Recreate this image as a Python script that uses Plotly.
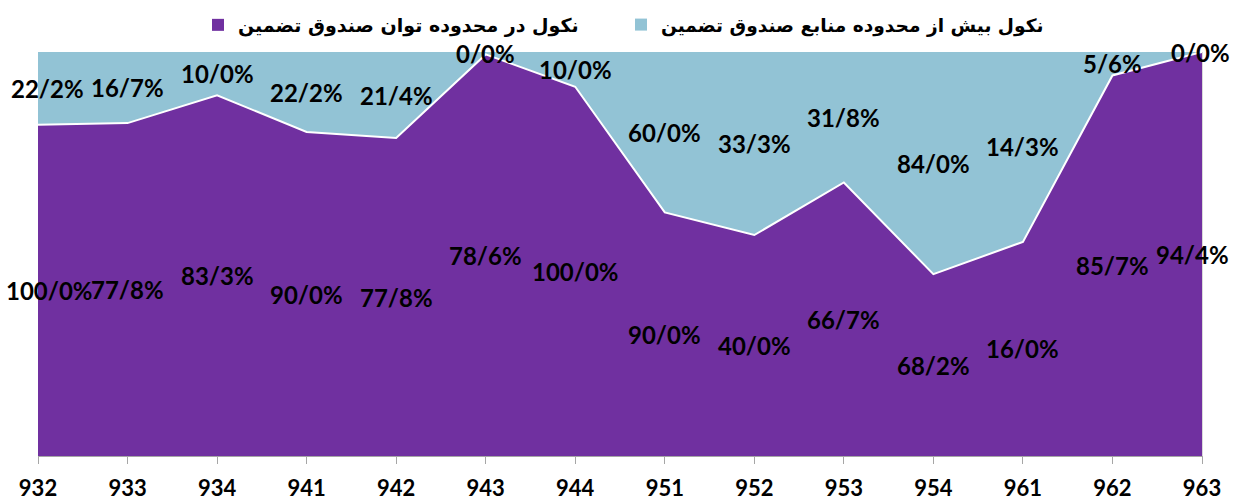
import plotly.graph_objects as go

# ---- data ----
categories = ['932', '933', '934', '941', '942', '943', '944',
              '951', '952', '953', '954', '961', '962', '963']
within_share = [82.0, 82.4, 89.3, 80.2, 78.7, 99.4, 91.4,
                60.3, 54.7, 67.7, 45.0, 53.0, 94.2, 100.0]
beyond_share = [18.0, 17.6, 10.7, 19.8, 21.3, 0.6, 8.6,
                39.7, 45.3, 32.3, 55.0, 47.0, 5.8, 0.0]
within_labels = ['100/0%', '77/8%', '83/3%', '90/0%', '77/8%', '78/6%', '100/0%',
                 '90/0%', '40/0%', '66/7%', '68/2%', '16/0%', '85/7%', '94/4%']
beyond_labels = ['22/2%', '16/7%', '10/0%', '22/2%', '21/4%', '0/0%', '10/0%',
                 '60/0%', '33/3%', '31/8%', '84/0%', '14/3%', '5/6%', '0/0%']
name_within = 'نکول در محدوده توان صندوق تضمین'
name_beyond = 'نکول بیش از محدوده منابع صندوق تضمین'

PURPLE = '#7030A0'
BLUE = '#92C3D5'
NUM_FONT = 'Lato'
AR_FONT = 'DejaVu Sans'

fig = go.Figure()
fig.add_trace(go.Scatter(
    x=categories, y=within_share, stackgroup='s', groupnorm='percent',
    mode='lines', line=dict(color='white', width=2), fillcolor=PURPLE,
    showlegend=False, hoverinfo='skip'))
fig.add_trace(go.Scatter(
    x=categories, y=beyond_share, stackgroup='s',
    mode='lines', line=dict(color=BLUE, width=0), fillcolor=BLUE,
    showlegend=False, hoverinfo='skip'))

# legend entries (square markers)
fig.add_trace(go.Scatter(x=[None], y=[None], mode='markers', name=name_within,
                         marker=dict(symbol='square', size=12, color=PURPLE),
                         legend='legend'))
fig.add_trace(go.Scatter(x=[None], y=[None], mode='markers', name=name_beyond,
                         marker=dict(symbol='square', size=12, color=BLUE),
                         legend='legend2'))

# data labels (x given as category index)
n = len(categories)
shift_within = {0: 11, n - 1: -10}
shift_beyond = {0: 9, n - 1: -2}
for i, c in enumerate(categories):
    tot = within_share[i] + beyond_share[i]
    p = within_share[i] / tot * 100
    fig.add_annotation(x=i, y=p / 2, xref='x', yref='y',
                       text='<b>%s</b>' % within_labels[i],
                       showarrow=False, xshift=shift_within.get(i, 0),
                       font=dict(family=NUM_FONT, size=24, color='black'))
    fig.add_annotation(x=i, y=(p + 100) / 2, xref='x', yref='y',
                       text='<b>%s</b>' % beyond_labels[i],
                       showarrow=False, xshift=shift_beyond.get(i, 0),
                       font=dict(family=NUM_FONT, size=24, color='black'))

leg_font = dict(family=AR_FONT, size=19, color='black', weight='bold')
fig.update_layout(
    width=1242, height=501, autosize=False,
    paper_bgcolor='white', plot_bgcolor='white',
    margin=dict(l=38, r=40, t=52, b=45, autoexpand=False),
    xaxis=dict(type='category', range=[0, n - 1], showgrid=False,
               showline=True, linecolor='#A6A6A6', linewidth=1,
               ticks='outside', ticklen=7, tickcolor='#A6A6A6', tickwidth=1,
               ticklabelstandoff=6,
               tickfont=dict(family=NUM_FONT, size=22, color='black'),
               tickprefix='<b>', ticksuffix='</b>', zeroline=False),
    yaxis=dict(range=[0, 100], showgrid=False, zeroline=False,
               showticklabels=False, side='right', showline=True,
               linecolor='#D9D9D9', linewidth=1, ticks=''),
    legend=dict(orientation='h', xref='container', yref='container',
                x=198 / 1242, y=1 - 6 / 501, xanchor='left', yanchor='top',
                font=leg_font, bgcolor='rgba(0,0,0,0)'),
    legend2=dict(orientation='h', xref='container', yref='container',
                 x=621 / 1242, y=1 - 6 / 501, xanchor='left', yanchor='top',
                 font=dict(family=AR_FONT, size=18.6, color='black', weight='bold'),
                 bgcolor='rgba(0,0,0,0)'),
    showlegend=True,
)

fig.write_html('out.html', config={'displayModeBar': False},
               post_script="document.body.style.margin='0';"
                           "document.body.style.overflow='hidden';")
